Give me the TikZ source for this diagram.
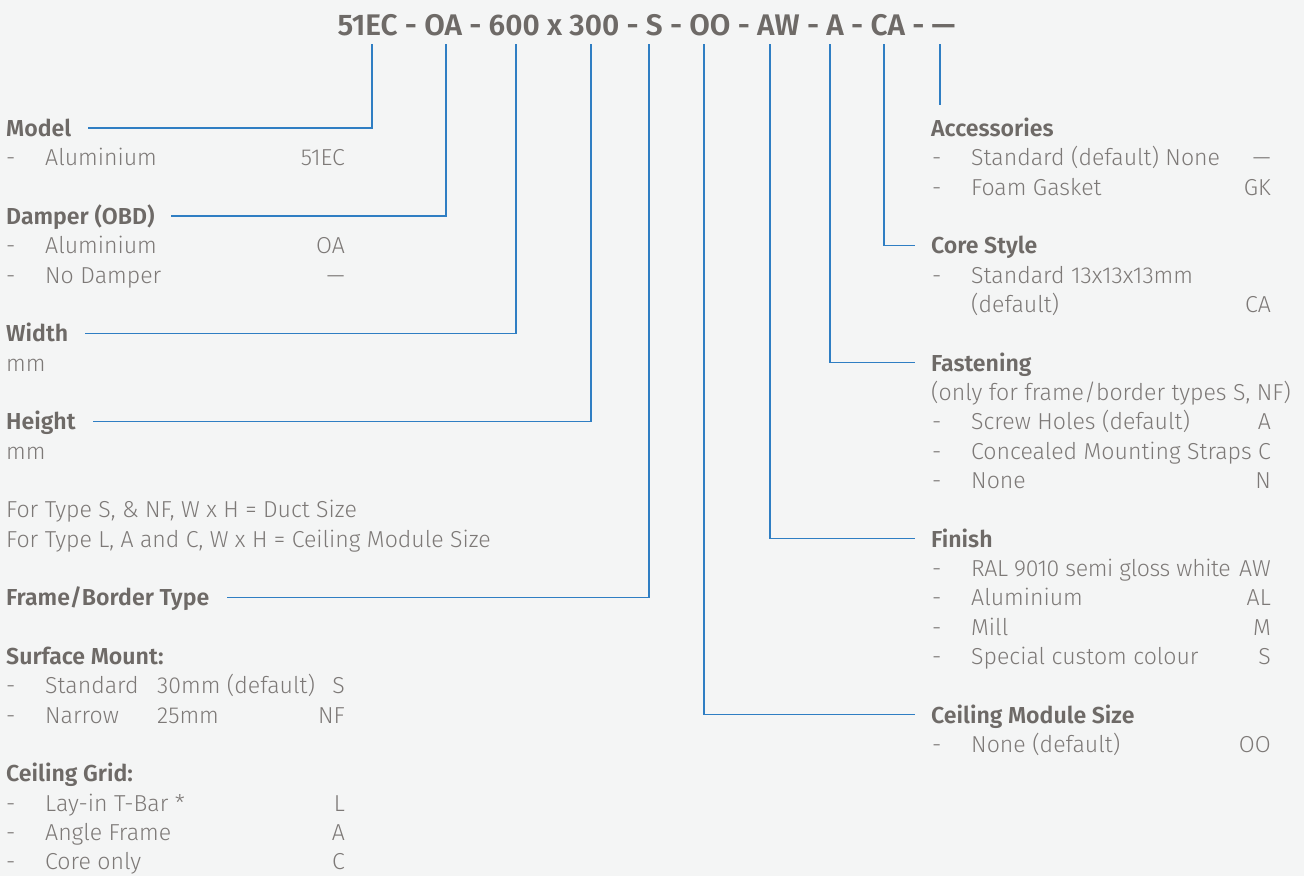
\documentclass[tikz,border=0pt]{standalone}
\usepackage{fontspec}
\setmainfont{Fira Sans}[UprightFont={* Light}, BoldFont={* SemiBold}]
\definecolor{bgc}{HTML}{F4F5F5}
\definecolor{headc}{HTML}{6E6A67}
\definecolor{bodyc}{HTML}{7D7977}
\definecolor{linec}{HTML}{2F7EC3}
\newcommand\fsz{\fontsize{23.1}{27}\selectfont}
\newcommand\tsz{\fontsize{29.8}{34}\selectfont}
\tikzset{
  hd/.style={font=\fsz\bfseries, text=headc, anchor=base west, inner sep=0pt},
  it/.style={font=\fsz, text=bodyc, anchor=base west, inner sep=0pt},
  val/.style={font=\fsz, text=bodyc, anchor=base east, inner sep=0pt},
  conn/.style={draw=linec, line width=1.4pt},
}
\begin{document}
\begin{tikzpicture}[x=1pt,y=1pt]
\useasboundingbox (0,0) rectangle (1304,-876);
\fill[bgc] (0,0) rectangle (1304,-876);
% title
\node[font=\tsz\bfseries, text=headc, anchor=base, inner sep=0pt] (title) at (646.5,-35)
  {51EC - OA - 600 x 300 - S - OO - AW - A - CA - —};
% top coordinates
\foreach \n/\x in {t1/372,t2/446,t3/516,t4/591,t5/649,t6/704,t7/770,t8/830,t9/884,t10/940}
  \coordinate (\n) at (\x,-44);
\coordinate (accend) at (940,-105);
% ---------- left column ----------
\node[hd] (model) at (6,{-(136.5+29.33*0)}) {Model};
\node[it] (d1) at (6,{-(136.5+29.33*1)}) {-};
\node[it] (m1) at (45,{-(136.5+29.33*1)}) {Aluminium};
\node[val] (m1v) at (345,{-(136.5+29.33*1)}) {51EC};
\node[hd] (damper) at (6,{-(136.5+29.33*3)}) {Damper (OBD)};
\node[it] (d2) at (6,{-(136.5+29.33*4)}) {-};
\node[it] (da1) at (45,{-(136.5+29.33*4)}) {Aluminium};
\node[val] (da1v) at (345,{-(136.5+29.33*4)}) {OA};
\node[it] (d3) at (6,{-(136.5+29.33*5)}) {-};
\node[it] (da2) at (45,{-(136.5+29.33*5)}) {No Damper};
\node[val] (da2v) at (345,{-(136.5+29.33*5)}) {—};
\node[hd] (width) at (6,{-(136.5+29.33*7)}) {Width};
\node[it] (wmm) at (6,{-(136.5+29.33*8)}) {mm};
\node[hd] (height) at (6,{-(136.5+29.33*10)}) {Height};
\node[it] (hmm) at (6,{-(136.5+29.33*11)}) {mm};
\node[it] (note1) at (6,{-(136.5+29.33*13)}) {For Type S, \& NF, W x H = Duct Size};
\node[it] (note2) at (6,{-(136.5+29.33*14)}) {For Type L, A and C, W x H = Ceiling Module Size};
\node[hd] (frame) at (6,{-(136.5+29.33*16)}) {Frame/Border Type};
\node[hd] (surf) at (6,{-(136.5+29.33*18)}) {Surface Mount:};
\node[it] (d4) at (6,{-(136.5+29.33*19)}) {-};
\node[it] (s1) at (45,{-(136.5+29.33*19)}) {Standard};
\node[it] (s1b) at (157,{-(136.5+29.33*19)}) {30mm (default)};
\node[val] (s1v) at (345,{-(136.5+29.33*19)}) {S};
\node[it] (d5) at (6,{-(136.5+29.33*20)}) {-};
\node[it] (s2) at (45,{-(136.5+29.33*20)}) {Narrow};
\node[it] (s2b) at (157,{-(136.5+29.33*20)}) {25mm};
\node[val] (s2v) at (345,{-(136.5+29.33*20)}) {NF};
\node[hd] (grid) at (6,{-(136.5+29.33*22)}) {Ceiling Grid:};
\node[it] (d6) at (6,{-(136.5+29.33*23)}) {-};
\node[it] (g1) at (45,{-(136.5+29.33*23)}) {Lay-in T-Bar *};
\node[val] (g1v) at (345,{-(136.5+29.33*23)}) {L};
\node[it] (d7) at (6,{-(136.5+29.33*24)}) {-};
\node[it] (g2) at (45,{-(136.5+29.33*24)}) {Angle Frame};
\node[val] (g2v) at (345,{-(136.5+29.33*24)}) {A};
\node[it] (d8) at (6,{-(136.5+29.33*25)}) {-};
\node[it] (g3) at (45,{-(136.5+29.33*25)}) {Core only};
\node[val] (g3v) at (345,{-(136.5+29.33*25)}) {C};
% ---------- right column ----------
\node[hd] (acc) at (931,{-(136.5+29.33*0)}) {Accessories};
\node[it] (e1) at (932,{-(136.5+29.33*1)}) {-};
\node[it] (a1) at (971,{-(136.5+29.33*1)}) {Standard (default) None};
\node[val] (a1v) at (1271,{-(136.5+29.33*1)}) {—};
\node[it] (e2) at (932,{-(136.5+29.33*2)}) {-};
\node[it] (a2) at (971,{-(136.5+29.33*2)}) {Foam Gasket};
\node[val] (a2v) at (1271,{-(136.5+29.33*2)}) {GK};
\node[hd] (core) at (931,{-(136.5+29.33*4)}) {Core Style};
\node[it] (e3) at (932,{-(136.5+29.33*5)}) {-};
\node[it] (c1) at (971,{-(136.5+29.33*5)}) {Standard 13x13x13mm};
\node[it] (c1b) at (971,{-(136.5+29.33*6)}) {(default)};
\node[val] (c1v) at (1271,{-(136.5+29.33*6)}) {CA};
\node[hd] (fast) at (931,{-(136.5+29.33*8)}) {Fastening};
\node[it] (fnote) at (931,{-(136.5+29.33*9)}) {(only for frame/border types S, NF)};
\node[it] (e4) at (932,{-(136.5+29.33*10)}) {-};
\node[it] (f1) at (971,{-(136.5+29.33*10)}) {Screw Holes (default)};
\node[val] (f1v) at (1271,{-(136.5+29.33*10)}) {A};
\node[it] (e5) at (932,{-(136.5+29.33*11)}) {-};
\node[it] (f2) at (971,{-(136.5+29.33*11)}) {Concealed Mounting Straps};
\node[val] (f2v) at (1271,{-(136.5+29.33*11)}) {C};
\node[it] (e6) at (932,{-(136.5+29.33*12)}) {-};
\node[it] (f3) at (971,{-(136.5+29.33*12)}) {None};
\node[val] (f3v) at (1271,{-(136.5+29.33*12)}) {N};
\node[hd] (fin) at (931,{-(136.5+29.33*14)}) {Finish};
\node[it] (e7) at (932,{-(136.5+29.33*15)}) {-};
\node[it] (n1) at (971,{-(136.5+29.33*15)}) {\addfontfeature{LetterSpace=-1.6}RAL 9010 semi gloss white};
\node[val] (n1v) at (1271,{-(136.5+29.33*15)}) {AW};
\node[it] (e8) at (932,{-(136.5+29.33*16)}) {-};
\node[it] (n2) at (971,{-(136.5+29.33*16)}) {Aluminium};
\node[val] (n2v) at (1271,{-(136.5+29.33*16)}) {AL};
\node[it] (e9) at (932,{-(136.5+29.33*17)}) {-};
\node[it] (n3) at (971,{-(136.5+29.33*17)}) {Mill};
\node[val] (n3v) at (1271,{-(136.5+29.33*17)}) {M};
\node[it] (e10) at (932,{-(136.5+29.33*18)}) {-};
\node[it] (n4) at (971,{-(136.5+29.33*18)}) {Special custom colour};
\node[val] (n4v) at (1271,{-(136.5+29.33*18)}) {S};
\node[hd] (cms) at (931,{-(136.5+29.33*20)}) {Ceiling Module Size};
\node[it] (e11) at (932,{-(136.5+29.33*21)}) {-};
\node[it] (o1) at (971,{-(136.5+29.33*21)}) {None (default)};
\node[val] (o1v) at (1271,{-(136.5+29.33*21)}) {OO};
% ---------- connectors ----------
\draw[conn] (t1) |- ([xshift=17pt,yshift=8.5pt]model.base east);
\draw[conn] (t2) |- ([xshift=16pt,yshift=8.5pt]damper.base east);
\draw[conn] (t3) |- ([xshift=17pt,yshift=8.5pt]width.base east);
\draw[conn] (t4) |- ([xshift=17pt,yshift=8.5pt]height.base east);
\draw[conn] (t5) |- ([xshift=18pt,yshift=8.5pt]frame.base east);
\draw[conn] (t6) |- ([xshift=-16pt,yshift=8.5pt]cms.base west);
\draw[conn] (t7) |- ([xshift=-16pt,yshift=8.5pt]fin.base west);
\draw[conn] (t8) |- ([xshift=-16pt,yshift=8.5pt]fast.base west);
\draw[conn] (t9) |- ([xshift=-16pt,yshift=8.5pt]core.base west);
\draw[conn] (t10) -- (accend);
\end{tikzpicture}
\end{document}
